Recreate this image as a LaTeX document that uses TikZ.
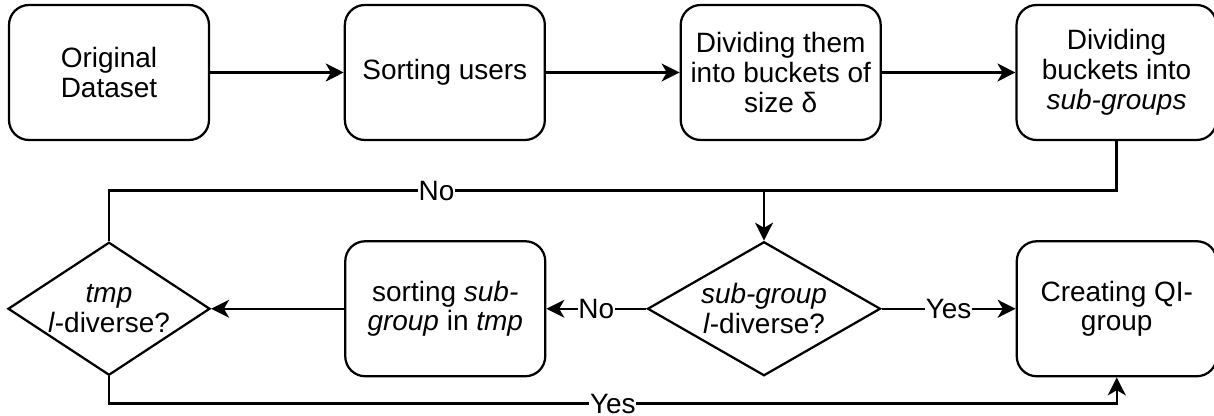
\documentclass[tikz,border=0pt]{standalone}
\usepackage{fontspec}
\setmainfont{Liberation Sans}
\usetikzlibrary{arrows.meta,positioning,shapes.geometric}

\begin{document}
\begin{tikzpicture}[>={Stealth[length=0.45cm,width=0.45cm,inset=0.13cm]},line width=1.6pt,
 font=\fontsize{19.9}{21.3}\selectfont,node distance=3.34cm,
 blk/.style={draw,rounded corners=0.5cm,minimum width=5cm,minimum height=3.375cm,align=center,inner sep=2pt},
 dec/.style={draw,diamond,minimum width=5.05cm,minimum height=3.325cm,inner sep=-0.4cm,align=center},
 lbl/.style={fill=white,inner sep=0.5pt}]
\useasboundingbox (0,0) rectangle (30.35,-10.4);
% first row
\node[blk] (orig) at (2.725,-1.8125) {Original\\Dataset};
\node[blk,right=of orig] (sortu) {Sorting users};
\node[blk,right=of sortu] (bkt) {Dividing them\\into buckets of\\size δ};
\node[blk,right=of bkt] (subg) {Dividing\\buckets into\\\textit{sub-groups}};
\draw[->] (orig)--(sortu); \draw[->] (sortu)--(bkt); \draw[->] (bkt)--(subg);
% second row
\node[dec,below=2.5cm of orig] (tmpd) {\textit{tmp}\\\textit{l}-diverse?};
\node[blk,right=3.325cm of tmpd] (sortg) {sorting \textit{sub-}\\\textit{group} in \textit{tmp}};
\node[dec,right=2.5cm of sortg,minimum width=5.825cm,minimum height=3.35cm] (sgd) {\textit{sub-group}\\\textit{l}-diverse?};
\node[blk,right=3.35cm of sgd] (qig) {Creating QI-\\group};
\coordinate (mrg) at ([yshift=1.25cm]sgd.north);
\draw[->] (subg.south) |- (mrg) -- (sgd.north);
\draw (tmpd.north) |- node[lbl,pos=0.75]{No} (mrg);
\draw[->] (sgd) -- node[lbl]{No} (sortg);
\draw[->] (sortg) -- (tmpd);
\draw[->] (sgd) -- node[lbl]{Yes} (qig);
\draw[->] (tmpd.south) -- ++(0,-0.68) -| node[lbl,pos=0.25]{Yes} (qig.south);
\end{tikzpicture}
\end{document}
